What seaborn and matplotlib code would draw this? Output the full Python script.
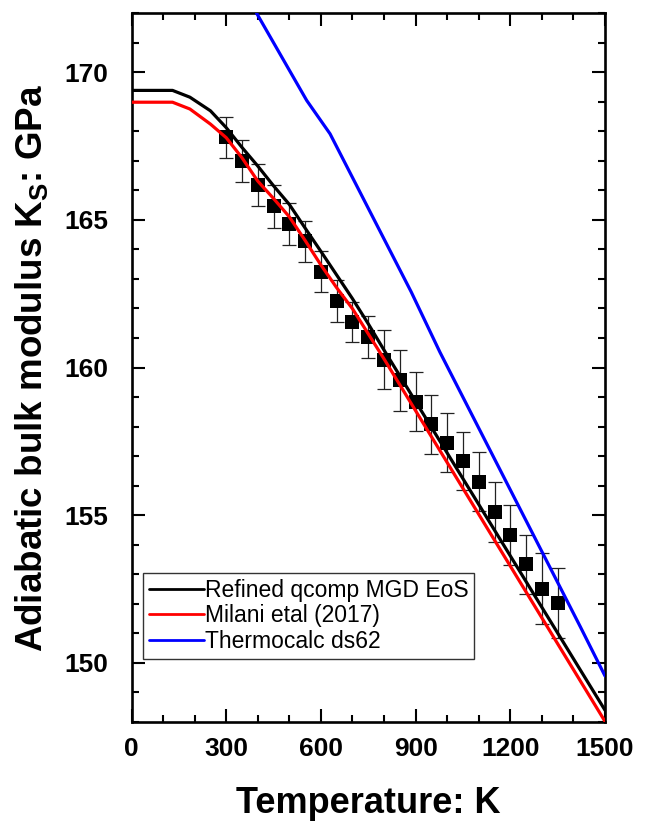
import numpy as np
import pandas as pd
import matplotlib
matplotlib.use("Agg")
import matplotlib.pyplot as plt
from matplotlib.ticker import MultipleLocator
import seaborn as sns

# ---- data ----
T_black = [0, 130, 185, 250, 300, 350, 400, 450, 500, 550, 600, 650, 700, 750, 800, 1500]
K_black = [169.38, 169.38, 169.15, 168.69, 168.12, 167.45, 166.82, 166.15, 165.52, 164.72,
           163.93, 163.13, 162.33, 161.48, 160.59, 148.40]

T_red = [0, 130, 185, 250, 300, 350, 400, 450, 500, 550, 600, 650, 700, 750, 800, 1500]
K_red = [168.98, 168.98, 168.75, 168.24, 167.78, 167.10, 166.31, 165.72, 165.10, 164.30,
         163.47, 162.70, 161.99, 161.14, 160.29, 148.02]

T_blue = [396, 555, 629, 886, 977, 1422, 1500]
K_blue = [172.0, 169.04, 167.91, 162.56, 160.52, 151.22, 149.56]

T_obs = [300, 350, 400, 450, 500, 550, 600, 650, 700, 750, 800, 850, 900, 950, 1000,
         1050, 1100, 1150, 1200, 1250, 1300, 1350]
K_obs = [167.79, 166.99, 166.17, 165.46, 164.86, 164.27, 163.24, 162.25, 161.54, 161.03,
         160.27, 159.56, 158.84, 158.08, 157.45, 156.83, 156.14, 155.12, 154.33, 153.34,
         152.51, 152.02]
K_err = [0.70, 0.70, 0.71, 0.73, 0.71, 0.70, 0.70, 0.71, 0.69, 0.71, 1.00, 1.02, 1.00, 1.00,
         1.00, 0.98, 1.00, 1.02, 1.00, 1.00, 1.20, 1.19]

labels = ["Refined qcomp MGD EoS", "Milani etal (2017)", "Thermocalc ds62"]
colors = ["#000000", "#ff0000", "#0000ff"]

# ---- style ----
sns.set_style("ticks")
plt.rcParams["font.family"] = ["Liberation Sans", "DejaVu Sans"]
plt.rcParams["mathtext.fontset"] = "custom"
plt.rcParams["mathtext.rm"] = "Liberation Sans:bold"
plt.rcParams["mathtext.it"] = "Liberation Sans:bold"
for k in ["text.color", "axes.labelcolor", "xtick.color", "ytick.color", "axes.edgecolor"]:
    plt.rcParams[k] = "black"

fig = plt.figure(figsize=(6.47, 8.24), dpi=100)
ax = fig.add_axes([131.5 / 647, 1 - 722 / 824, (605 - 131.5) / 647, (722 - 13) / 824])

df_curves = pd.concat([
    pd.DataFrame({"T": T_black, "K": K_black, "model": labels[0]}),
    pd.DataFrame({"T": T_red, "K": K_red, "model": labels[1]}),
    pd.DataFrame({"T": T_blue, "K": K_blue, "model": labels[2]}),
])

ax.errorbar(T_obs, K_obs, yerr=K_err, fmt="none", ecolor="#222222", elinewidth=0.9,
            capsize=5, capthick=0.9, zorder=2)
sns.scatterplot(x=T_obs, y=K_obs, marker="s", s=115, color="black", edgecolor="black",
                linewidth=0, ax=ax, zorder=3, legend=False)
sns.lineplot(data=df_curves, x="T", y="K", hue="model", hue_order=labels,
             palette=colors, linewidth=2.3, sort=False, estimator=None, ax=ax, zorder=4)

ax.set_xlim(0, 1500)
ax.set_ylim(148, 172)
ax.xaxis.set_major_locator(MultipleLocator(300))
ax.xaxis.set_minor_locator(MultipleLocator(100))
ax.yaxis.set_major_locator(MultipleLocator(5))
ax.yaxis.set_minor_locator(MultipleLocator(1))
ax.tick_params(which="both", direction="in", top=True, right=True, width=1.5)
ax.tick_params(which="major", length=9.5, labelsize=19)
ax.tick_params(axis="x", which="major", pad=11)
ax.tick_params(axis="y", which="major", pad=17)
ax.tick_params(which="minor", length=5)
for lab in ax.get_xticklabels() + ax.get_yticklabels():
    lab.set_fontweight("bold")
for sp in ax.spines.values():
    sp.set_linewidth(1.9)
    sp.set_visible(True)

ax.set_xlabel("Temperature: K", fontsize=26, fontweight="bold", labelpad=18)
ax.set_ylabel(r"Adiabatic bulk modulus K$_{\mathrm{S}}$: GPa", fontsize=26.5,
              fontweight="bold", labelpad=10)

leg = ax.legend(loc="lower left", bbox_to_anchor=(0.024, 0.089), fontsize=16.5,
                frameon=True, fancybox=False, edgecolor="black", handlelength=2.4,
                handletextpad=0.05, borderpad=0.25, labelspacing=0.12, borderaxespad=0)
leg.get_frame().set_linewidth(1.0)
for h in leg.get_lines():
    h.set_linewidth(2.0)

fig.savefig("out.png", dpi=100)
